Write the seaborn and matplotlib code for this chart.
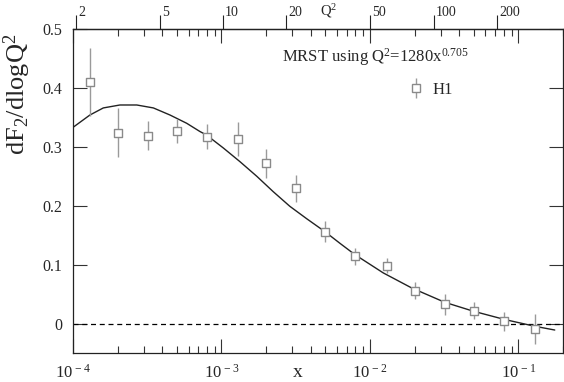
import matplotlib

matplotlib.use("Agg")
import matplotlib.pyplot as plt
import matplotlib.transforms as mtransforms
import numpy as np
import pandas as pd
import seaborn as sns
from matplotlib.lines import Line2D
from matplotlib.ticker import FixedLocator, FixedFormatter, NullLocator, LogLocator

# H1 data points
h1_x = [1.31e-4, 2.0e-4, 3.2e-4, 5.0e-4, 8.0e-4, 1.3e-3, 2.0e-3, 3.2e-3,
        5.0e-3, 8.0e-3, 1.3e-2, 2.0e-2, 3.2e-2, 5.0e-2, 8.0e-2, 1.3e-1]
h1_y = [0.410, 0.324, 0.319, 0.327, 0.317, 0.313, 0.272, 0.230,
        0.156, 0.114, 0.098, 0.056, 0.033, 0.022, 0.004, -0.009]
h1_err = [0.058, 0.042, 0.024, 0.021, 0.021, 0.029, 0.025, 0.023,
          0.018, 0.015, 0.013, 0.015, 0.018, 0.015, 0.016, 0.025]

# MRST curve
mrst_x = [1.00e-4, 1.30e-4, 1.60e-4, 2.07e-4, 2.69e-4, 3.48e-4, 4.50e-4, 5.83e-4,
          7.16e-4, 7.94e-4, 1.03e-3, 1.33e-3, 1.73e-3, 2.23e-3, 2.89e-3, 3.75e-3,
          4.98e-3, 6.3e-3, 7.93e-3, 1.23e-2, 1.91e-2, 3.20e-2, 4.97e-2, 8.11e-2,
          0.129, 0.176]
mrst_y = [0.333, 0.354, 0.366, 0.371, 0.371, 0.366, 0.354, 0.340,
          0.326, 0.320, 0.298, 0.275, 0.250, 0.224, 0.199, 0.178,
          0.156, 0.136, 0.117, 0.086, 0.0605, 0.036, 0.021, 0.0068,
          -0.0046, -0.011]

y_ticks = [0, 0.1, 0.2, 0.3, 0.4, 0.5]
y_ticklabels = ["0", "0.1", "0.2", "0.3", "0.4", "0.5"]
x_ticks = [1e-4, 1e-3, 1e-2, 1e-1]
x_ticklabels = [r"10$^{\,-4}$", r"10$^{\,-3}$", r"10$^{\,-2}$", r"10$^{\,-1}$"]
q2_ticks = [2, 5, 10, 20, 50, 100, 200]
q2_ticklabels = ["2", "5", "10", "20", "50", "100", "200"]

sns.set_theme(style="ticks")
plt.rcParams["font.family"] = ["Liberation Serif", "DejaVu Serif"]
plt.rcParams["mathtext.fontset"] = "custom"
plt.rcParams["mathtext.rm"] = "Liberation Serif"
plt.rcParams["mathtext.it"] = "Liberation Serif:italic"
plt.rcParams["mathtext.default"] = "regular"

fig = plt.figure(figsize=(5.64, 3.82), dpi=100)
ax = fig.add_axes([73 / 564, 1 - 353 / 382, 490 / 564, 324 / 382])

gray = "#8a8a8a"
ax.axhline(0, color="black", lw=0.9, ls=(0, (4, 3)), zorder=1)

mrst = pd.DataFrame({"x": mrst_x, "y": mrst_y})
sns.lineplot(data=mrst, x="x", y="y", ax=ax, color="#222222", lw=1.0, sort=False, zorder=2)

ax.errorbar(h1_x, h1_y, yerr=h1_err, fmt="none", ecolor="#9a9a9a", elinewidth=1.0, capsize=0, zorder=3)
h1 = pd.DataFrame({"x": h1_x, "y": h1_y})
sns.scatterplot(data=h1, x="x", y="y", ax=ax, marker="s", s=32, facecolor="white",
                edgecolor=gray, linewidth=1.0, zorder=4)

ax.set_xscale("log")
ax.set_xlim(1e-4, 0.2)
ax.set_ylim(-0.05, 0.5)

ax.xaxis.set_major_locator(FixedLocator(x_ticks))
ax.xaxis.set_major_formatter(FixedFormatter(x_ticklabels))
ax.xaxis.set_minor_locator(LogLocator(base=10, subs=np.arange(2, 10)))
ax.yaxis.set_major_locator(FixedLocator(y_ticks))
ax.yaxis.set_major_formatter(FixedFormatter(y_ticklabels))
ax.yaxis.set_minor_locator(NullLocator())

ax.tick_params(axis="x", which="both", direction="in", top=True, bottom=True, labeltop=False,
               labelsize=12, pad=8, color="#333333")
ax.tick_params(axis="x", which="major", length=10, width=0.8)
ax.tick_params(axis="x", which="minor", length=5, width=0.8)
ax.tick_params(axis="y", which="major", direction="in", left=True, right=True, length=10,
               width=0.8, labelsize=11.5, pad=8, color="#333333")
for s in ax.spines.values():
    s.set_linewidth(0.9)
    s.set_color("#222222")

ax.set_xlabel("x", fontsize=14)
ax.xaxis.set_label_coords(0.459, -0.035)
ax.set_ylabel("dF$_2$/dlogQ$^2$", fontsize=19)
ax.yaxis.set_label_coords(-0.082, 0.80)

# Q^2 axis on top
secax = ax.secondary_xaxis("top", functions=(lambda x: 1280 * np.power(np.clip(x, 1e-12, None), 0.705),
                                             lambda q: np.power(np.clip(q, 1e-12, None) / 1280, 1 / 0.705)))
secax.set_xscale("log")
secax.xaxis.set_major_locator(FixedLocator(q2_ticks))
secax.xaxis.set_major_formatter(FixedFormatter(q2_ticklabels))
secax.xaxis.set_minor_locator(NullLocator())
secax.tick_params(axis="x", which="major", direction="out", length=10, width=0.8, labelsize=10,
                  pad=-3, color="#222222")
shift = mtransforms.ScaledTranslation(2 / 100, 0, fig.dpi_scale_trans)
for lbl in secax.get_xticklabels():
    lbl.set_horizontalalignment("left")
    lbl.set_transform(lbl.get_transform() + shift)
secax.spines["top"].set_linewidth(0.9)
ax.text(0.522, 1.054, "Q$^2$", transform=ax.transAxes, fontsize=10.5, ha="center", va="center")

ax.text(0.4265, 0.914, "MRST using Q$^2$=1280x$^{0.705}$", transform=ax.transAxes,
        fontsize=12, ha="left", va="center")

bar = Line2D([], [], marker="|", markersize=14, color="#9a9a9a", linestyle="none", markeredgewidth=1.0)
sq = Line2D([], [], marker="s", markersize=5.5, markerfacecolor="white", markeredgecolor=gray,
            linestyle="none", markeredgewidth=1.0)
ax.legend([(bar, sq)], ["H1"], loc="center left", bbox_to_anchor=(0.683, 0.812), frameon=False,
          fontsize=12, handlelength=1.0, handletextpad=0.5, borderpad=0, borderaxespad=0)

fig.savefig("out.png", dpi=100)
